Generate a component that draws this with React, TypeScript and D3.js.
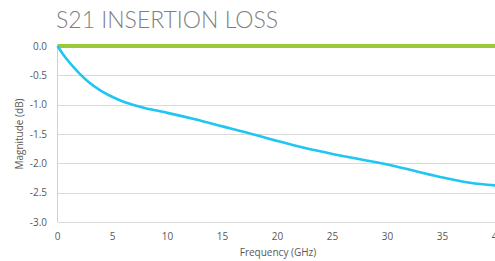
import { useEffect, useRef } from "react";
import * as d3 from "d3";

// S21 insertion loss
const freqGHz = [0, 0.5, 1, 1.5, 2, 3, 4, 5, 6, 7, 8, 9, 10, 12.5, 15, 17.5, 20, 22.5, 25, 27.5, 30, 32.5, 35, 37.5, 40];
const lossDb = [0, -0.14, -0.26, -0.37, -0.47, -0.64, -0.77, -0.87, -0.95, -1.01, -1.06, -1.1, -1.14, -1.25, -1.37, -1.49, -1.62, -1.74, -1.84, -1.93, -2.02, -2.13, -2.24, -2.33, -2.38];
const limitFreq = [0, 40];
const limitDb = [0, 0];
const xTicks = [0, 5, 10, 15, 20, 25, 30, 35, 40];
const yTicks = [0, -0.5, -1, -1.5, -2, -2.5, -3];

const W = 495;
const H = 261;

export default function App() {
  const ref = useRef<SVGSVGElement>(null);

  useEffect(() => {
    const svg = d3.select(ref.current);
    svg.selectAll("*").remove();

    const x = d3.scaleLinear().domain([0, 40]).range([57.5, 497.5]);
    const y = d3.scaleLinear().domain([-3, 0]).range([222, 46]);
    const font = "'Open Sans', 'Noto Sans', sans-serif";

    svg
      .append("text")
      .attr("x", 56)
      .attr("y", 28)
      .text("S21 INSERTION LOSS")
      .style("font-family", "Lato, 'Open Sans', sans-serif")
      .style("font-weight", 300)
      .style("font-size", "23px")
      .style("fill", "#7f7f7f");

    // grid
    svg
      .append("g")
      .selectAll("line")
      .data(yTicks)
      .enter()
      .append("line")
      .attr("x1", x(0))
      .attr("x2", W)
      .attr("y1", (d) => Math.round(y(d)) + 0.5)
      .attr("y2", (d) => Math.round(y(d)) + 0.5)
      .attr("stroke", "#d9d9d9")
      .attr("stroke-width", 1);

    svg
      .append("line")
      .attr("x1", x(0))
      .attr("x2", x(0))
      .attr("y1", y(0))
      .attr("y2", y(-3))
      .attr("stroke", "#d0d0d0");

    // tick labels
    svg
      .append("g")
      .selectAll("text")
      .data(yTicks)
      .enter()
      .append("text")
      .attr("x", 47)
      .attr("y", (d) => y(d) + 3.5)
      .attr("text-anchor", "end")
      .text((d) => d3.format(".1f")(d).replace("−", "-"))
      .style("font-family", font)
      .style("font-size", "10px")
      .style("fill", "#595959");

    svg
      .append("g")
      .selectAll("text")
      .data(xTicks)
      .enter()
      .append("text")
      .attr("x", (d) => x(d))
      .attr("y", 240)
      .attr("text-anchor", "middle")
      .text((d) => String(d))
      .style("font-family", font)
      .style("font-size", "10px")
      .style("fill", "#595959");

    svg
      .append("text")
      .attr("x", 278)
      .attr("y", 256)
      .attr("text-anchor", "middle")
      .text("Frequency (GHz)")
      .style("font-family", font)
      .style("font-size", "10px")
      .style("fill", "#595959");

    svg
      .append("text")
      .attr("transform", "translate(23,134) rotate(-90)")
      .attr("text-anchor", "middle")
      .text("Magnitude (dB)")
      .style("font-family", font)
      .style("font-size", "10px")
      .style("fill", "#595959");

    const line = d3
      .line<[number, number]>()
      .x((d) => x(d[0]))
      .y((d) => y(d[1]))
      .curve(d3.curveCatmullRom.alpha(0.5));

    svg
      .append("path")
      .attr("d", line(limitFreq.map((f, i) => [f, limitDb[i]]) as [number, number][]))
      .attr("fill", "none")
      .attr("stroke", "#9dc73a")
      .attr("stroke-width", 4);

    svg
      .append("path")
      .attr("d", line(freqGHz.map((f, i) => [f, lossDb[i]]) as [number, number][]))
      .attr("fill", "none")
      .attr("stroke", "#1ec6f1")
      .attr("stroke-width", 2.6)
      .attr("stroke-linejoin", "round");
  }, []);

  return (
    <div style={{ position: "fixed", left: 0, top: 0, width: W, height: H, overflow: "hidden", background: "#fff" }}>
      <svg ref={ref} width={W} height={H} style={{ display: "block" }} />
    </div>
  );
}
